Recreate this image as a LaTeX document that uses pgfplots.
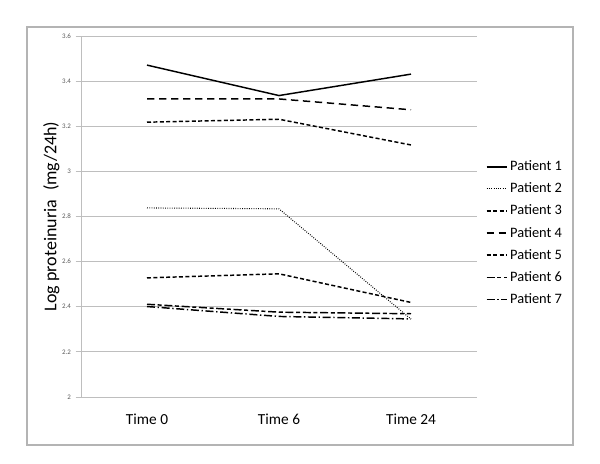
\documentclass[border=0pt]{standalone}
\usepackage{fontspec}
\setmainfont{Carlito}
\usepackage{pgfplots}
\pgfplotsset{compat=1.18}
\definecolor{gridc}{RGB}{190,190,190}
\definecolor{framec}{RGB}{180,180,180}
\definecolor{tickc}{RGB}{90,90,90}

\begin{document}
\begin{tikzpicture}[x=0.75pt,y=0.75pt]
% page and outer chart frame (pixel units, origin bottom left)
\fill[white] (0,0) rectangle (600,464);
\draw[framec,line width=0.8pt] (27,19) rectangle (573,437);
\begin{axis}[at={(81*0.75pt,67*0.75pt)},anchor=south west,
  scale only axis, width=297pt, height=270.75pt,
  xmin=-0.5, xmax=2.5, ymin=2, ymax=3.6,
  axis lines=left, axis line style={-,gridc,line width=0.6pt},
  xtick={0,1,2}, xticklabels={Time 0,Time 6,Time 24},
  major x tick style={draw=none},
  extra x ticks={-0.5,0.5,1.5,2.5}, extra x tick labels={},
  extra x tick style={major tick length=5pt, tick style={gridc,line width=0.6pt}, tick align=outside, grid=none},
  x tick label style={font=\fontsize{11.5}{13}\selectfont, yshift=-5pt},
  ytick={2,2.2,...,3.6},
  yticklabels={2,2.2,2.4,2.6,2.8,3,3.2,3.4,3.6},
  y tick label style={font=\fontsize{5.2}{6}\selectfont, text=tickc},
  ymajorgrids, grid style={gridc,line width=0.6pt},
  y tick style={gridc,line width=0.6pt}, major tick length=4pt, tick align=outside,
  ylabel={Log proteinuria\enspace(mg/24h)},
  ylabel style={font=\fontsize{13.5}{15}\selectfont, at={(axis description cs:-0.075,0.5)}, anchor=center},
  legend style={at={(axis description cs:1.022,0.454)}, anchor=west, draw=none, fill=none,
    font=\fontsize{10.8}{12}\selectfont, row sep=3.6pt, inner sep=0pt},
  legend cell align=left,
  legend image code/.code={\draw[#1] (0pt,0pt) -- (15pt,0pt);},
  every axis plot/.append style={black, line width=1.1pt},
]
\addplot[solid] coordinates {(0,3.471) (1,3.336) (2,3.431)};
\addlegendentry{Patient 1}
\addplot[line width=0.8pt, dash pattern=on 0.6pt off 1.1pt] coordinates {(0,2.838) (1,2.834) (2,2.345)};
\addlegendentry{Patient 2}
\addplot[dash pattern=on 3pt off 1.8pt] coordinates {(0,3.218) (1,3.231) (2,3.117)};
\addlegendentry{Patient 3}
\addplot[dash pattern=on 5.5pt off 3.5pt] coordinates {(0,3.321) (1,3.321) (2,3.273)};
\addlegendentry{Patient 4}
\addplot[dash pattern=on 3pt off 1.8pt on 3pt off 1.8pt] coordinates {(0,2.528) (1,2.546) (2,2.419)};
\addlegendentry{Patient 5}
\addplot[dash pattern=on 6pt off 2pt on 3pt off 2pt] coordinates {(0,2.411) (1,2.376) (2,2.369)};
\addlegendentry{Patient 6}
\addplot[dash pattern=on 6pt off 2pt on 1pt off 2pt] coordinates {(0,2.401) (1,2.357) (2,2.346)};
\addlegendentry{Patient 7}
\end{axis}
\end{tikzpicture}
\end{document}
